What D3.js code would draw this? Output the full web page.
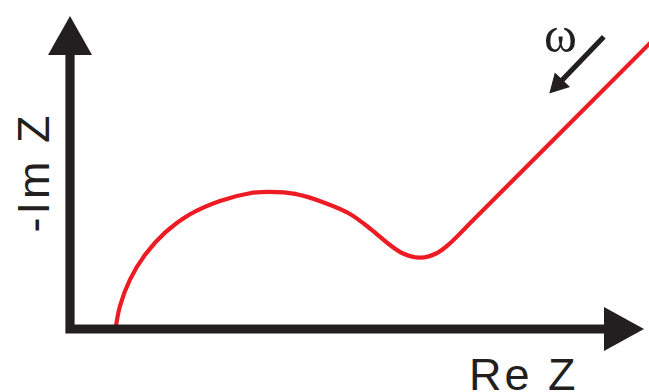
<!DOCTYPE html>
<html>
<head>
<meta charset="utf-8">
<script src="https://cdn.jsdelivr.net/npm/d3@7"></script>
<style>
  html, body { margin: 0; padding: 0; background: #fff; }
  svg { display: block; }
</style>
</head>
<body>
<svg id="chart" width="649" height="392"></svg>
<script>
// Nyquist plot of an impedance spectrum: a depressed semicircle
// (charge transfer) followed by a 45° Warburg tail. Arbitrary units.
const reZ = [7.93, 8.71, 10.45, 13.07, 16.55, 20.91, 26.13, 31.36, 34.84, 39.20, 44.43,
             48.78, 52.61, 55.75, 58.01, 60.98, 63.88, 66.20, 69.11, 74.91, 102.79];
const imZ = [0.00, 4.01, 8.61, 12.91, 16.78, 19.98, 22.30, 23.64, 23.87, 23.52, 21.95,
             20.03, 17.23, 14.63, 13.15, 12.42, 13.19, 14.93, 17.82, 23.64, 51.52];

const axisLabels = { x: "Re Z", y: "-Im Z" };
const freqSymbol = "ω";

const ink = "#231f20";
const red = "#ed1c24";

const svg = d3.select("#chart");

const x = d3.scaleLinear().domain([0, 100]).range([70, 644]);
const y = d3.scaleLinear().domain([0, 54.5]).range([329, 16]);

const [x0, x1] = x.range();
const [y0, y1] = y.range();

// Impedance curve
const pts = reZ.map((d, i) => [d, imZ[i]]);
const line = d3.line()
  .x(d => x(d[0]))
  .y(d => y(d[1]))
  .curve(d3.curveCatmullRom.alpha(0.5));

svg.append("path")
  .datum(pts)
  .attr("d", line)
  .attr("fill", "none")
  .attr("stroke", red)
  .attr("stroke-width", 4.2);

// Axes with solid arrowheads
const headLen = 40, headHalf = 22;
svg.append("path")
  .attr("d", `M${x0},${y1 + headLen - 1} V${y0} H${x1 - headLen + 1}`)
  .attr("fill", "none")
  .attr("stroke", ink)
  .attr("stroke-width", 9.2)
  .attr("stroke-linejoin", "miter");

svg.append("path")
  .attr("d", `M${x0},${y1} L${x0 - headHalf},${y1 + headLen - 1} L${x0 + headHalf},${y1 + headLen - 1} Z`)
  .attr("fill", ink);

svg.append("path")
  .attr("d", `M${x1},${y0} L${x1 - headLen},${y0 - headHalf} L${x1 - headLen},${y0 + headHalf} Z`)
  .attr("fill", ink);

// Axis titles
svg.append("text")
  .attr("x", 469)
  .attr("y", 389.5)
  .attr("font-family", "Liberation Sans, Arial, sans-serif")
  .attr("font-size", 45)
  .attr("letter-spacing", 3)
  .attr("fill", ink)
  .text(axisLabels.x);

svg.append("text")
  .attr("transform", "translate(48.5,172.5) rotate(-90)")
  .attr("text-anchor", "middle")
  .attr("font-family", "Liberation Sans, Arial, sans-serif")
  .attr("font-size", 45)
  .attr("letter-spacing", 3)
  .attr("fill", ink)
  .text(axisLabels.y);

// Direction of increasing frequency
const aStart = [x(93.0), y(50.9)];
const aTip = [x(83.5), y(41.0)];
const dx = aTip[0] - aStart[0], dy = aTip[1] - aStart[1];
const len = Math.hypot(dx, dy);
const ux = dx / len, uy = dy / len;
const hl = 19, hw = 10.5;
const base = [aTip[0] - ux * hl, aTip[1] - uy * hl];

svg.append("line")
  .attr("x1", aStart[0]).attr("y1", aStart[1])
  .attr("x2", base[0] + ux * 2).attr("y2", base[1] + uy * 2)
  .attr("stroke", ink)
  .attr("stroke-width", 5.2);

svg.append("path")
  .attr("d", `M${aTip[0]},${aTip[1]} L${base[0] - uy * hw},${base[1] + ux * hw} L${base[0] + uy * hw},${base[1] - ux * hw} Z`)
  .attr("fill", ink);

svg.append("text")
  .attr("x", 544)
  .attr("y", 52)
  .attr("font-family", "Liberation Serif, Times New Roman, serif")
  .attr("font-size", 50)
  .attr("fill", ink)
  .text(freqSymbol);
</script>
</body>
</html>
